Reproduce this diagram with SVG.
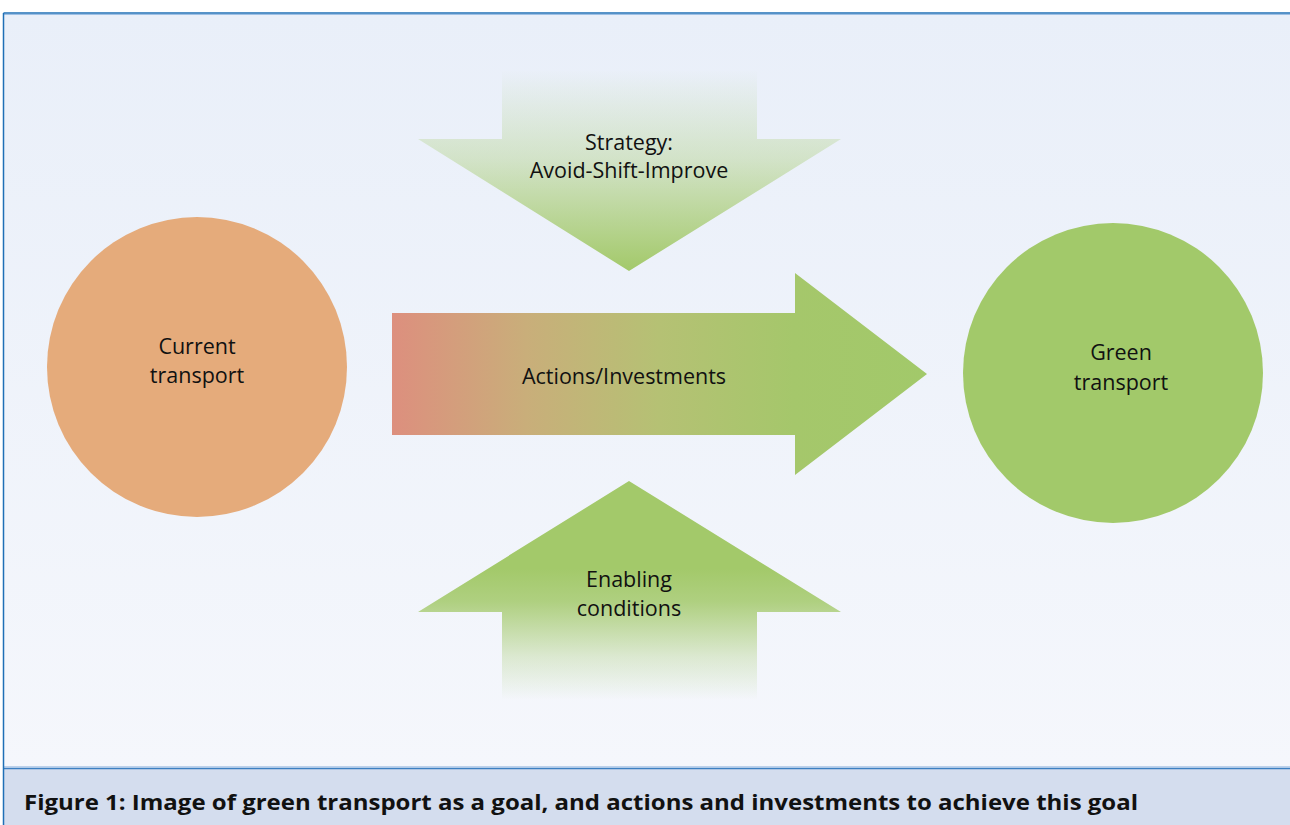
<svg xmlns="http://www.w3.org/2000/svg" width="1290" height="825" viewBox="0 0 1290 825">
<defs>
<linearGradient id="bg" x1="0" y1="0" x2="0" y2="1">
<stop offset="0" stop-color="#e9eff9"/>
<stop offset="1" stop-color="#f5f7fc"/>
</linearGradient>
<linearGradient id="down" x1="0" y1="70" x2="0" y2="271" gradientUnits="userSpaceOnUse">
<stop offset="0" stop-color="#a3c96a" stop-opacity="0"/>
<stop offset="0.45" stop-color="#a3c96a" stop-opacity="0.35"/>
<stop offset="1" stop-color="#a3c96a" stop-opacity="1"/>
</linearGradient>
<linearGradient id="up" x1="0" y1="700" x2="0" y2="481" gradientUnits="userSpaceOnUse">
<stop offset="0" stop-color="#a3c96a" stop-opacity="0"/>
<stop offset="0.2" stop-color="#a3c96a" stop-opacity="0.3"/>
<stop offset="0.45" stop-color="#a3c96a" stop-opacity="0.85"/>
<stop offset="0.6" stop-color="#a3c96a" stop-opacity="1"/>
<stop offset="1" stop-color="#a3c96a" stop-opacity="1"/>
</linearGradient>
<linearGradient id="mid" x1="392" y1="0" x2="927" y2="0" gradientUnits="userSpaceOnUse">
<stop offset="0" stop-color="#dd8f7e"/>
<stop offset="0.25" stop-color="#c9ae7a"/>
<stop offset="0.5" stop-color="#b5c174"/>
<stop offset="0.75" stop-color="#a5c76b"/>
<stop offset="1" stop-color="#a2c96a"/>
</linearGradient>
<style>
.t{font-family:"Open Sans","Noto Sans","Liberation Sans",sans-serif;font-size:21.5px;fill:#111;text-anchor:middle}
.cap{font-family:"Open Sans","Noto Sans","Liberation Sans",sans-serif;font-size:21px;font-weight:bold;fill:#111}
</style>
</defs>
<rect x="0" y="0" width="1290" height="825" fill="#ffffff"/>
<rect x="3.5" y="13.5" width="1290" height="755" fill="url(#bg)"/>
<rect x="3.5" y="768" width="1290" height="57" fill="#d4ddee"/>
<line x1="3.5" y1="768.5" x2="1290" y2="768.5" stroke="#3d80c2" stroke-width="1.5"/>
<line x1="3.5" y1="767" x2="1290" y2="767" stroke="#a9c5e6" stroke-width="1.5"/>
<line x1="3.5" y1="13" x2="1290" y2="13" stroke="#1f6fb6" stroke-width="1.5"/>
<line x1="3.5" y1="14.5" x2="1290" y2="14.5" stroke="#9dbfe4" stroke-width="1.2"/>
<line x1="3.5" y1="13" x2="3.5" y2="825" stroke="#1f6fb6" stroke-width="1.5"/>

<g id="node-strategy">
<polygon points="502,70 757,70 757,139 841,139 629,271 418,139 502,139" fill="url(#down)"/>
<text class="t" x="629" y="150">Strategy:</text>
<text class="t" x="629" y="178">Avoid-Shift-Improve</text>
</g>
<g id="node-enabling">
<polygon points="629,481 841,612 757,612 757,700 502,700 502,612 418,612" fill="url(#up)"/>
<text class="t" x="629" y="587">Enabling</text>
<text class="t" x="629" y="616">conditions</text>
</g>
<g id="connectors">
<g id="node-actions">
<polygon points="392,313 795,313 795,273 927,374 795,475 795,435 392,435" fill="url(#mid)"/>
<text class="t" x="624" y="384">Actions/Investments</text>
</g>
</g>
<g id="node-current">
<circle cx="197" cy="367" r="150" fill="#e5ab7b"/>
<text class="t" x="197" y="354">Current</text>
<text class="t" x="197" y="383">transport</text>
</g>
<g id="node-green">
<circle cx="1113" cy="373" r="150" fill="#a2c96a"/>
<text class="t" x="1121" y="360">Green</text>
<text class="t" x="1121" y="390">transport</text>
</g>
<text class="cap" x="24" y="810" textLength="1114" lengthAdjust="spacingAndGlyphs">Figure 1: Image of green transport as a goal, and actions and investments to achieve this goal</text>
</svg>
